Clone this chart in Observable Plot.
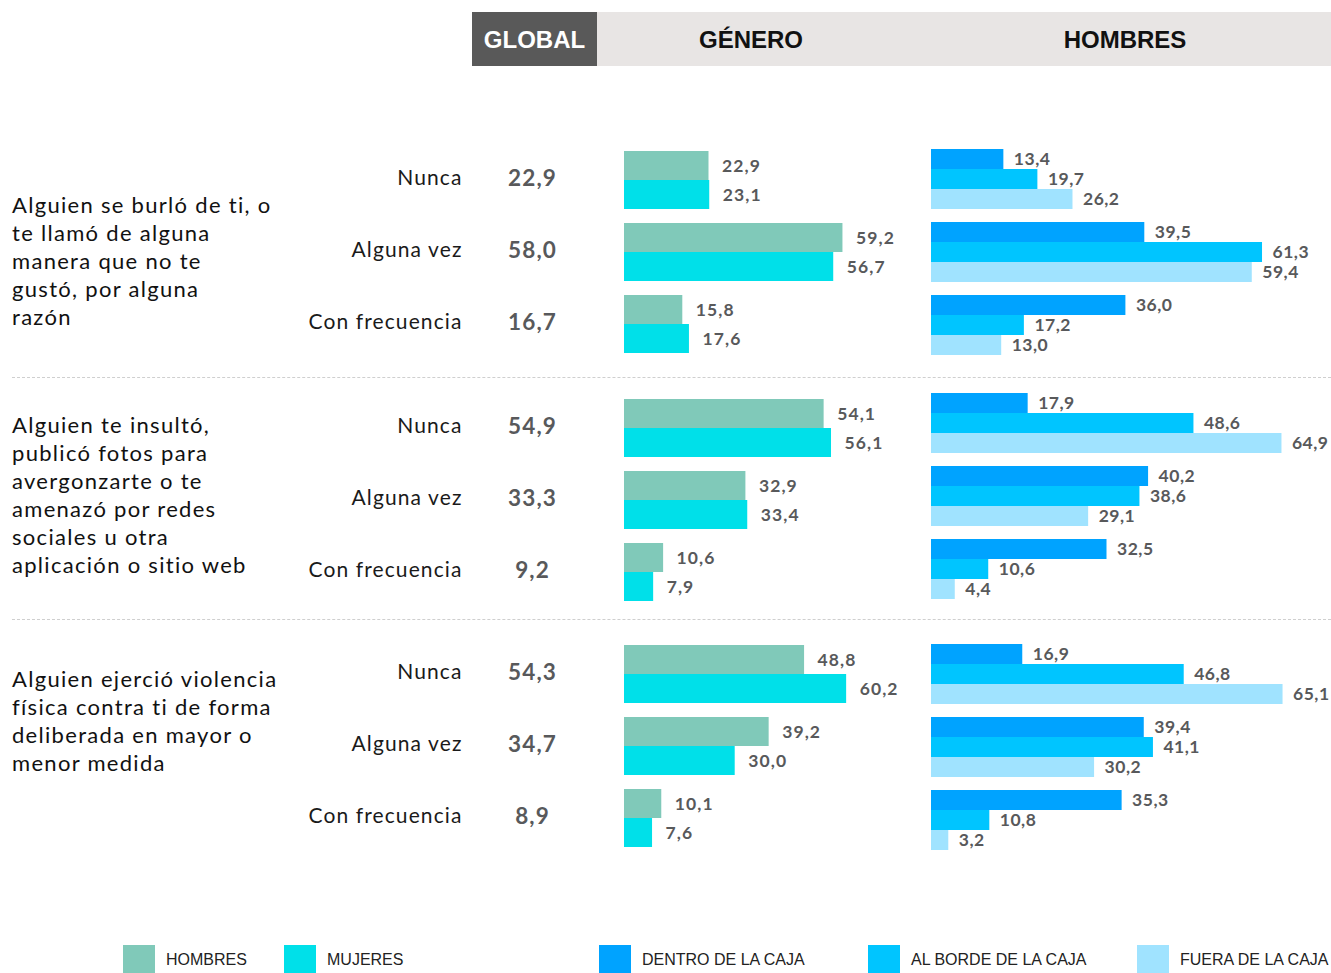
<!DOCTYPE html>
<html><head><meta charset="utf-8">
<script src="https://cdn.jsdelivr.net/npm/d3@7"></script>
<script src="https://cdn.jsdelivr.net/npm/@observablehq/plot@0.6"></script>
<style>
body{margin:0;background:#fff;}
#root{position:relative;width:1331px;height:973px;overflow:hidden;font-family:Lato,sans-serif;}
.hdr{position:absolute;top:12px;height:54px;line-height:56px;text-align:center;font-family:"Liberation Sans",Arial,sans-serif;font-weight:bold;font-size:24px;}
.q{position:absolute;left:12px;font-size:22px;line-height:28px;color:#111;white-space:nowrap;letter-spacing:1.3px;}
.sep{position:absolute;left:12px;width:1319px;height:0;border-top:1px dashed #cfcfcf;}
.sw{position:absolute;top:945px;width:32px;height:28px;}
.lt{position:absolute;top:951px;font-family:"Liberation Sans",Arial,sans-serif;font-size:16px;color:#222;white-space:nowrap;}
</style></head><body><div id="root"></div>
<script>
// ---------- data ----------
const responses = ["Nunca", "Alguna vez", "Con frecuencia"];
const questions = [
  ["Alguien se burló de ti, o", "te llamó de alguna", "manera que no te", "gustó, por alguna", "razón"],
  ["Alguien te insultó,", "publicó fotos para", "avergonzarte o te", "amenazó por redes", "sociales u otra", "aplicación o sitio web"],
  ["Alguien ejerció violencia", "física contra ti de forma", "deliberada en mayor o", "menor medida"]
];
const globalVals = [[22.9, 58.0, 16.7], [54.9, 33.3, 9.2], [54.3, 34.7, 8.9]];
const generoHombres = [[22.9, 59.2, 15.8], [54.1, 32.9, 10.6], [48.8, 39.2, 10.1]];
const generoMujeres = [[23.1, 56.7, 17.6], [56.1, 33.4, 7.9], [60.2, 30.0, 7.6]];
const dentroCaja = [[13.4, 39.5, 36.0], [17.9, 40.2, 32.5], [16.9, 39.4, 35.3]];
const bordeCaja = [[19.7, 61.3, 17.2], [48.6, 38.6, 10.6], [46.8, 41.1, 10.8]];
const fueraCaja = [[26.2, 59.4, 13.0], [64.9, 29.1, 4.4], [65.1, 30.2, 3.2]];
const generoSeries = ["HOMBRES", "MUJERES"];
const hombresSeries = ["DENTRO DE LA CAJA", "AL BORDE DE LA CAJA", "FUERA DE LA CAJA"];
const headers = ["GLOBAL", "GÉNERO", "HOMBRES"];

// ---------- styles / layout ----------
const generoColors = ["#80c9b9", "#00e0e9"];
const hombresColors = ["#00a3ff", "#00c5ff", "#a0e3ff"];
const valueColor = "#58595b";
const generoTop = [151, 399, 645];
const hombresTop = [148, 392, 643];
const questionTop = [191, 411, 665];
const sepTop = [377, 619];

const fmt = v => v.toFixed(1).replace(".", ",");
const root = document.getElementById("root");
function add(html) { root.insertAdjacentHTML("beforeend", html); }

// header
add(`<div class="hdr" style="left:472px;width:125px;background:#595959;color:#fff;">${headers[0]}</div>`);
add(`<div class="hdr" style="left:597px;width:734px;background:#e8e5e4;"></div>`);
add(`<div class="hdr" style="left:597px;width:308px;color:#111;">${headers[1]}</div>`);
add(`<div class="hdr" style="left:920px;width:410px;color:#111;">${headers[2]}</div>`);

// separators
sepTop.forEach(t => add(`<div class="sep" style="top:${t}px"></div>`));

// questions
questions.forEach((lines, g) => add(`<div class="q" style="top:${questionTop[g]}px">${lines.join("<br>")}</div>`));

const gStyle = {fontFamily: "Lato, sans-serif", overflow: "visible", background: "transparent", letterSpacing: "1.1px"};
const hStyle = {fontFamily: "Lato, sans-serif", overflow: "visible", background: "transparent", letterSpacing: "0.5px"};

questions.forEach((_, g) => {
  // GÉNERO panel
  const gRows = [];
  const labels = [];
  responses.forEach((r, i) => {
    gRows.push({response: r, series: generoSeries[0], value: generoHombres[g][i]});
    gRows.push({response: r, series: generoSeries[1], value: generoMujeres[g][i]});
    labels.push({response: r, global: globalVals[g][i]});
  });
  const gw = 300;
  const gp = Plot.plot({
    width: gw, height: 202, margin: 0,
    style: gStyle,
    x: {domain: [0, gw / 3.69], axis: null},
    y: {domain: generoSeries, axis: null, padding: 0},
    fy: {domain: responses, axis: null, paddingInner: 14 / 72, paddingOuter: 0},
    color: {domain: generoSeries, range: generoColors},
    marks: [
      Plot.barX(gRows, {x: "value", y: "series", fy: "response", fill: "series"}),
      Plot.text(gRows, {x: "value", y: "series", fy: "response", text: d => fmt(d.value), textAnchor: "start", dx: 13, fill: valueColor, fontWeight: 700, fontSize: 17.5}),
      Plot.text(labels, {fy: "response", text: "response", frameAnchor: "left", textAnchor: "end", dx: -162, dy: -2, fill: "#1a1a1a", fontSize: 21}),
      Plot.text(labels, {fy: "response", text: d => fmt(d.global), frameAnchor: "left", textAnchor: "middle", dx: -92, dy: -2, fill: valueColor, fontWeight: 700, fontSize: 22.5})
    ]
  });
  gp.style.position = "absolute";
  gp.style.left = "624px";
  gp.style.top = generoTop[g] + "px";
  root.appendChild(gp);

  // HOMBRES panel
  const hRows = [];
  responses.forEach((r, i) => {
    hRows.push({response: r, series: hombresSeries[0], value: dentroCaja[g][i]});
    hRows.push({response: r, series: hombresSeries[1], value: bordeCaja[g][i]});
    hRows.push({response: r, series: hombresSeries[2], value: fueraCaja[g][i]});
  });
  const hw = 396;
  const hp = Plot.plot({
    width: hw, height: 208, margin: 0,
    style: hStyle,
    x: {domain: [0, hw / 5.40], axis: null},
    y: {domain: hombresSeries, axis: null, padding: 0},
    fy: {domain: responses, axis: null, paddingInner: 11 / 73, paddingOuter: 0},
    color: {domain: hombresSeries, range: hombresColors},
    marks: [
      Plot.barX(hRows, {x: "value", y: "series", fy: "response", fill: "series"}),
      Plot.text(hRows, {x: "value", y: "series", fy: "response", text: d => fmt(d.value), textAnchor: "start", dx: 10, fill: valueColor, fontWeight: 700, fontSize: 17.5})
    ]
  });
  hp.style.position = "absolute";
  hp.style.left = "931px";
  hp.style.top = hombresTop[g] + "px";
  root.appendChild(hp);
});

// legend
const legendSeries = generoSeries.concat(hombresSeries);
const legendColors = generoColors.concat(hombresColors);
const legendLeft = [123, 284, 599, 868, 1137];
legendSeries.forEach((s, i) => {
  add(`<div class="sw" style="left:${legendLeft[i]}px;background:${legendColors[i]}"></div>`);
  add(`<div class="lt" style="left:${legendLeft[i] + 43}px">${s}</div>`);
});
</script>
</body></html>
